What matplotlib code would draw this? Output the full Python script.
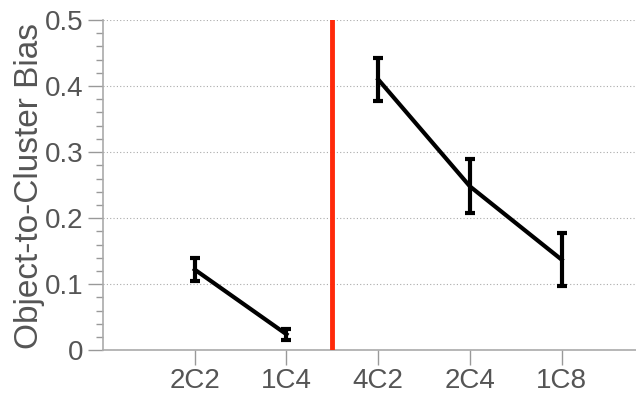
import matplotlib
matplotlib.use("Agg")
import matplotlib.pyplot as plt
from matplotlib.ticker import MultipleLocator, FuncFormatter

labels = ["2C2", "1C4", "4C2", "2C4", "1C8"]
left_pos = [1, 2]
left_vals = [0.122, 0.024]
left_err = [0.018, 0.008]
right_pos = [3, 4, 5]
right_vals = [0.410, 0.248, 0.137]
right_err = [0.032, 0.041, 0.040]
divider = 2.5

plt.rcParams["font.family"] = ["Liberation Sans", "DejaVu Sans"]
GREY = "#555555"

fig = plt.figure(figsize=(6.36, 3.93), dpi=100)
ax = fig.add_axes([0.162, 0.109, 0.838, 0.84])

ax.yaxis.grid(True, which="major", linestyle=(0, (1, 2)), color="#aaaaaa", linewidth=0.8)
ax.set_axisbelow(True)

for pos, vals, err in [(left_pos, left_vals, left_err), (right_pos, right_vals, right_err)]:
    ax.errorbar(pos, vals, yerr=err, color="black", linewidth=3, elinewidth=3,
                capsize=3.5, capthick=3, zorder=3)

ax.axvline(divider, color="#ff2a0a", linewidth=3.5, zorder=4)

ax.set_xticks(range(1, 6))
ax.set_xticklabels(labels)
ax.yaxis.set_major_locator(MultipleLocator(0.1))
ax.yaxis.set_minor_locator(MultipleLocator(0.02))
ax.yaxis.set_major_formatter(FuncFormatter(lambda v, p: "0" if abs(v) < 1e-9 else f"{v:.1f}"))
ax.set_xlim(0, 5.81)
ax.set_ylim(0, 0.5)

for side in ["top", "right"]:
    ax.spines[side].set_visible(False)
for side in ["left", "bottom"]:
    ax.spines[side].set_color("#aaaaaa")
    ax.spines[side].set_linewidth(1.2)

ax.tick_params(axis="both", which="major", length=11, width=1, color="#999999",
               labelcolor=GREY, labelsize=20)
ax.tick_params(axis="y", which="major", pad=3)
ax.tick_params(axis="x", which="major", pad=2)
ax.tick_params(axis="y", which="minor", length=5, width=1, color="#999999")
ax.set_ylabel("Object-to-Cluster Bias", color=GREY, fontsize=24)
ax.yaxis.set_label_coords(-0.108, 0.497)

fig.savefig("out.png", dpi=100)
